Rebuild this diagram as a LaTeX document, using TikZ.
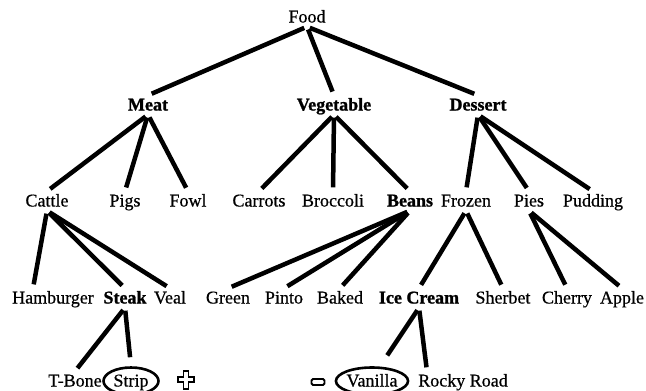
\documentclass[tikz,border=0pt]{standalone}
\usepackage{fontspec}
\setmainfont{Liberation Serif}[FakeBold=0.6, BoldFeatures={FakeBold=1.2}]
\usetikzlibrary{shapes.geometric}

\begin{document}
\begin{tikzpicture}[x=1pt,y=-1pt,
    item/.style={inner sep=2pt, text height=13pt, text depth=2pt,
                 font=\fontsize{18}{20}\selectfont},
    group/.style={item, font=\fontsize{18}{20}\selectfont\bfseries},
    picked/.style={item, ellipse, draw, line width=2.6pt, inner sep=0pt,
                   minimum width=55pt, minimum height=27pt},
    branch/.style={line width=4.5pt, shorten <=3pt, shorten >=4pt}]
\useasboundingbox (0,0) rectangle (646,391);
% levels
\node[item]  (food)     at (307,17)  {Food};
\node[group] (meat)     at (148,105) {Meat};
\node[group] (veg)      at (334,105) {Vegetable};
\node[group] (dessert)  at (478,105) {Dessert};
\node[item]  (cattle)   at (47,201)  {Cattle};
\node[item]  (pigs)     at (125,201) {Pigs};
\node[item]  (fowl)     at (188,201) {Fowl};
\node[item]  (carrots)  at (259,201) {Carrots};
\node[item]  (broccoli) at (333,201) {Broccoli};
\node[group] (beans)    at (410,201) {Beans};
\node[item]  (frozen)   at (466,201) {Frozen};
\node[item]  (pies)     at (529,201) {Pies};
\node[item]  (pudding)  at (593,201) {Pudding};
\node[item]  (hamburger) at (53,298) {Hamburger};
\node[group] (steak)    at (125,298) {Steak};
\node[item]  (veal)     at (170,298) {Veal};
\node[item]  (green)    at (228,298) {Green};
\node[item]  (pinto)    at (284,298) {Pinto};
\node[item]  (baked)    at (340,298) {Baked};
\node[group] (icecream) at (419,298) {Ice Cream};
\node[item]  (sherbet)  at (503,298) {Sherbet};
\node[item]  (cherry)   at (567,298) {Cherry};
\node[item]  (apple)    at (622,298) {Apple};
\node[item]  (tbone)    at (75,381)  {T-Bone};
\node[picked] (strip)   at (131,381) {Strip};
\node[picked, minimum width=63pt] (vanilla) at (372,381) {Vanilla};
\node[item]  (rocky)    at (463,381) {Rocky Road};
% plus and minus marks
\coordinate (plus) at (186,380);
\draw[line width=1.5pt] (plus) ++(-2.5,-9) -- ++(5,0) -- ++(0,6) -- ++(5.5,0)
  -- ++(0,5) -- ++(-5.5,0) -- ++(0,7) -- ++(-5,0) -- ++(0,-7) -- ++(-5.5,0)
  -- ++(0,-5) -- ++(5.5,0) -- cycle;
\node[draw, line width=1.8pt, rounded corners=1.5pt, minimum width=13pt,
      minimum height=6pt, inner sep=0pt] (minus) at (318,382) {};
% branches
\foreach \a/\b in {food/meat, food/veg, food/dessert,
    meat/cattle, meat/pigs, meat/fowl,
    veg/carrots, veg/broccoli, veg/beans,
    dessert/frozen, dessert/pies, dessert/pudding,
    cattle/steak, cattle/veal,
    beans/green, beans/pinto, beans/baked,
    frozen/icecream, frozen/sherbet,
    pies/cherry, pies/apple,
    steak/tbone}
  \draw[branch] (\a.south) -- (\b.north);
\draw[branch] (cattle.south) -- ([xshift=-20pt]hamburger.north);
\draw[branch] (icecream.south) -- ([xshift=-36pt]rocky.north);
\draw[branch, shorten >=9pt] (steak.south) -- (strip.north);
\draw[branch, shorten >=13pt] (icecream.south) -- ([xshift=8pt]vanilla.north);
\end{tikzpicture}
\end{document}
